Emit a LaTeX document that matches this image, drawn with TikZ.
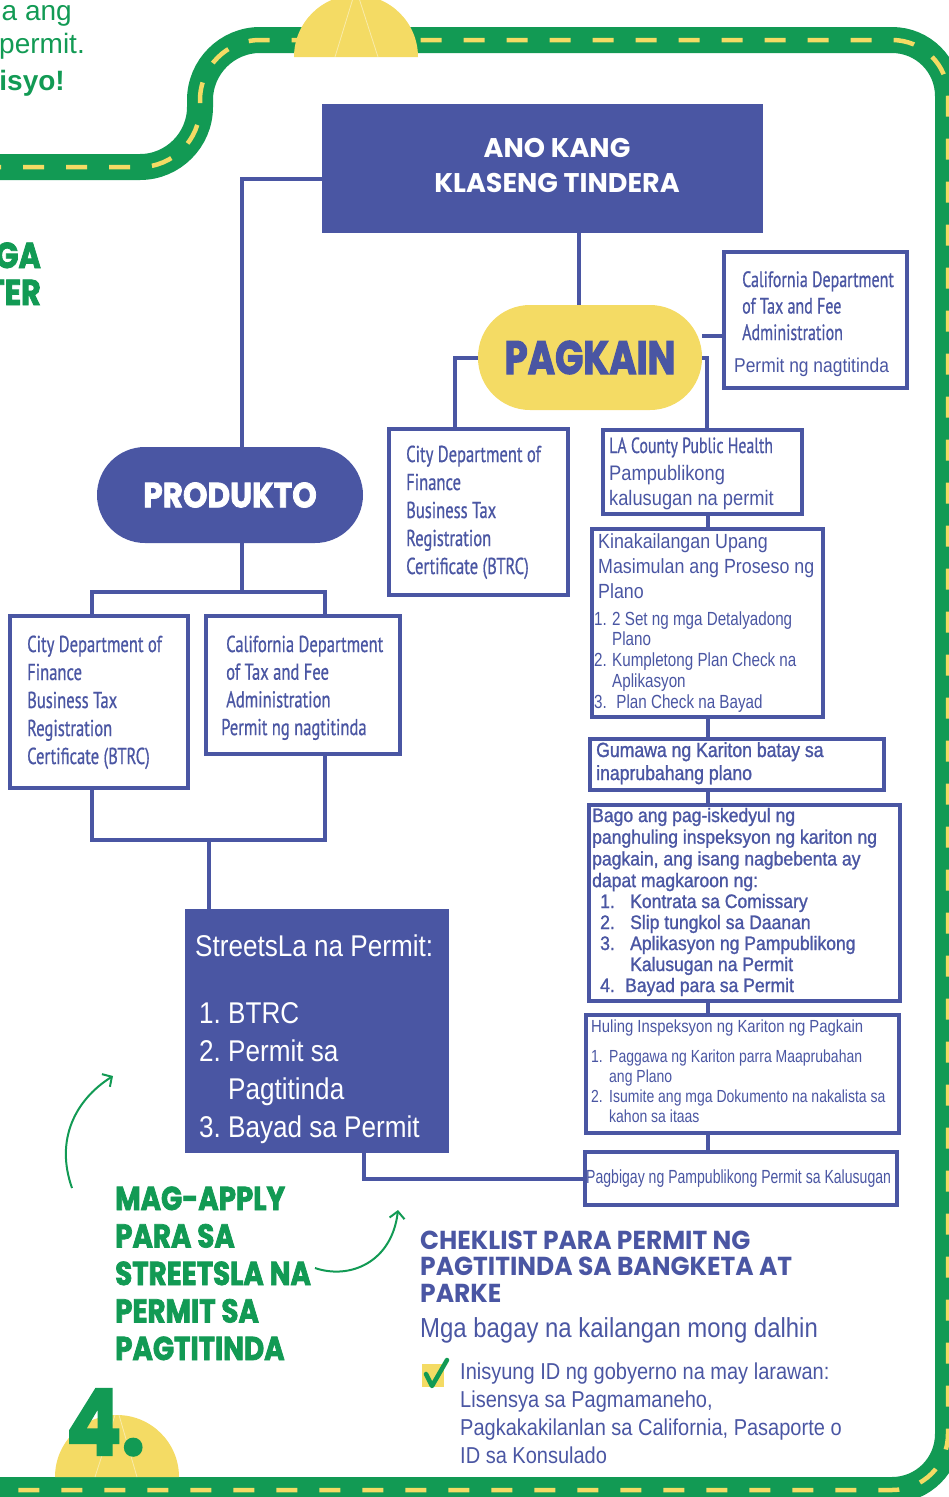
\documentclass[tikz,border=0pt]{standalone}
\usepackage{fontspec}
\setmainfont{Liberation Sans}
\newfontfamily\arialA[FakeStretch=0.87]{Liberation Sans}
\newfontfamily\arialB[FakeStretch=0.8]{Liberation Sans}
\newfontfamily\arialBb[FakeStretch=0.85]{Liberation Sans}
\newfontfamily\arialC[FakeStretch=0.74]{Liberation Sans}
\newfontfamily\arialBold[FakeStretch=0.86,FakeBold=1.2]{Liberation Sans}
\newfontfamily\arialBoldW[FakeStretch=0.9,FakeBold=1.2]{Liberation Sans}
\newfontfamily\condf[FakeStretch=0.72,FakeBold=0.6]{PT Sans}
\newfontfamily\heavyA[FakeStretch=0.84,FakeBold=2.2]{Poppins}
\newfontfamily\heavyP[FakeStretch=0.79,FakeBold=2.2]{Poppins}
\newfontfamily\heavyB[FakeStretch=0.89,FakeBold=2.2]{Poppins}
\newfontfamily\heavyF[FakeStretch=0.89,FakeBold=2.2]{Poppins}
\newfontfamily\futb[FakeStretch=1.0]{Poppins}
\newfontfamily\futc[FakeStretch=0.96]{Poppins}
\usetikzlibrary{arrows.meta}
\definecolor{sblue}{HTML}{4A56A3}
\definecolor{sgreen}{HTML}{129A54}
\definecolor{syellow}{HTML}{F4DB64}
\newcommand\fsz[2]{\fontsize{#1}{#2}\selectfont}
\newcommand\mlines[1]{\vtop{\lineskiplimit=-100pt\lineskip=0pt\halign{##\hfil\cr#1\crcr}}}
\newcommand\clines[1]{\vtop{\lineskiplimit=-100pt\lineskip=0pt\halign{\hfil##\hfil\cr#1\crcr}}}
\newcommand\tlines[2]{\vtop{\lineskiplimit=-100pt\lineskip=0pt\halign{\hbox to #1{##\hfil}&##\hfil\cr#2\crcr}}}
\tikzset{
  bx/.style={draw=sblue, line width=4, fill=white, inner sep=0, anchor=north west},
  bluebox/.style={fill=sblue, inner sep=0, anchor=north west},
  conn/.style={draw=sblue, line width=4},
  txt/.style={inner sep=0, anchor=base west, text=sblue},
  road/.style={draw=sgreen, line width=26},
  roaddash/.style={draw=syellow, line width=4.5, dash pattern=on 21 off 22},
  garrow/.style={draw=sgreen, line width=2, -{Straight Barb[length=7pt,width=15pt,line width=2pt]}},
}
\begin{document}
\begin{tikzpicture}[x=1pt,y=-1pt]
\useasboundingbox (0,0) rectangle (949,1497);
% road
\def\roadpath{(-20,167) -- (140,167) .. controls (173,167) and (200,140) .. (200,107) -- (200,100) .. controls (200,67) and (227,40) .. (260,40) -- (892,40) .. controls (923,40) and (948,65) .. (948,96) -- (948,1434) .. controls (948,1465) and (923,1490) .. (892,1490) -- (-20,1490)}
\draw[road] \roadpath;
\draw[roaddash] \roadpath;
% bumps
\fill[syellow] (294,57) arc[start angle=180, end angle=360, radius=62] -- cycle;
\draw[white, opacity=0.45, line width=0.8] (335,57) -- (354,-5) (378,57) -- (358,-5);
\fill[syellow] (55,1477) arc[start angle=180, end angle=360, radius=62] -- cycle;
\draw[white, opacity=0.45, line width=0.8] (95,1477) -- (115,1415) (137,1477) -- (119,1415);
% top-left texts
\node[anchor=base east, inner sep=0, text=sgreen, font=\fsz{28}{30}] (tl1) at (72,20) {a ang};
\node[anchor=base east, inner sep=0, text=sgreen, font=\fsz{28}{30}] (tl2) at (85,53) {permit.};
\node[anchor=base east, inner sep=0, text=sgreen, font=\bfseries\fsz{28}{30}] (tl3) at (65,90) {isyo!};
\node[anchor=base east, inner sep=0, text=sgreen, font=\heavyA\bfseries\fsz{36}{36}] (ga) at (41,268) {GA};
\node[anchor=base east, inner sep=0, text=sgreen, font=\heavyA\bfseries\fsz{36}{36}] (ter) at (41,305) {TER};
% title
\node[bluebox, minimum width=441, minimum height=129] (title) at (322,104) {};
\node[anchor=base, inner sep=0, text=white, font=\futb\bfseries\fsz{27}{35}] (titlet) at (557,157) {\clines{ANO KANG\cr KLASENG TINDERA}};
% pagkain / produkto
\node[fill=syellow, minimum width=224, minimum height=105, rounded corners=52, inner sep=0, text=sblue, font=\heavyP\bfseries\fsz{47}{47}] (pagkain) at (590,357.5) {PAGKAIN};
\node[fill=sblue, minimum width=266, minimum height=96, rounded corners=48, inner sep=0, text=white, font=\heavyB\bfseries\fsz{35}{35}] (produkto) at (230,495) {PRODUKTO};
% boxes
\node[bx, minimum width=183, minimum height=136] (cdtR) at (722,250) {};
\node[bx, minimum width=179, minimum height=166] (cdfM) at (387,427) {};
\node[bx, minimum width=199, minimum height=84] (lach) at (601,428) {};
\node[bx, minimum width=231, minimum height=188] (kina) at (590,527) {};
\node[bx, minimum width=294, minimum height=51] (gum) at (588,737) {};
\node[bx, minimum width=311, minimum height=196] (bago) at (587,803) {};
\node[bx, minimum width=313, minimum height=118] (huling) at (584,1013) {};
\node[bx, minimum width=312, minimum height=53] (pagbigay) at (583,1150) {};
\node[bx, minimum width=178, minimum height=172] (cdfL) at (8,614) {};
\node[bx, minimum width=194, minimum height=138] (cdtL) at (204,614) {};
\node[bluebox, minimum width=264, minimum height=244] (streets) at (185,909) {};
% connectors
\draw[conn] ([yshift=-10]title.west) -| ([xshift=12]produkto.north);
\draw[conn] ([xshift=36.5]title.south) -- ([xshift=36.5]title.south |- pagkain.north);
\draw[conn] (pagkain.west) -| ([xshift=-23.5]cdfM.north);
\draw[conn] ([yshift=22]pagkain.east) -- ([yshift=22]pagkain.east -| cdtR.west);
\draw[conn] (pagkain.east) -| ([xshift=4.5]lach.north);
\draw[conn] ([xshift=5.5]lach.south) -- ([xshift=5.5]lach.south |- kina.north);
\draw[conn] ([xshift=0.5]kina.south) -- ([xshift=0.5]kina.south |- gum.north);
\draw[conn] ([xshift=-29]gum.south) -- ([xshift=-29]gum.south |- bago.north);
\draw[conn] ([xshift=-36.5]bago.south) -- ([xshift=-36.5]bago.south |- huling.north);
\draw[conn] ([xshift=-34.5]huling.south) -- ([xshift=-34.5]huling.south |- pagbigay.north);
\draw[conn] (pagbigay.west) -| ([xshift=47]streets.south);
\coordinate (pbar) at (242,592);
\draw[conn] ([xshift=12]produkto.south) -- (pbar);
\draw[conn] ([xshift=-7]cdfL.north) |- (pbar) -| ([xshift=22]cdtL.north);
\coordinate (sbar) at (209,840);
\draw[conn] ([xshift=-7]cdfL.south) |- (sbar) -| ([xshift=22]cdtL.south);
\draw[conn] (sbar) -- (sbar |- streets.north);
% box texts
\node[txt, font=\condf\fsz{22.2}{26.5}] (cdtRt) at (742,287) {\mlines{California Department\cr of Tax and Fee\cr Administration}};
\node[txt, font=\arialA\fsz{20}{24}] (cdtRp) at (734,372) {Permit ng nagtitinda};
\node[txt, font=\condf\fsz{23}{28}] (cdfMt) at (406,462) {\mlines{City Department of\cr Finance\cr Business Tax\cr Registration\cr Certificate (BTRC)}};
\node[txt, font=\condf\fsz{22}{27}] (lacht) at (609,453) {LA County Public Health};
\node[txt, font=\arialA\fsz{21}{25}] (lachp) at (609,480) {\mlines{Pampublikong\cr kalusugan na permit}};
\node[txt, font=\arialA\fsz{20.5}{25}] (kinat) at (598,548) {\mlines{Kinakailangan Upang\cr Masimulan ang Proseso ng\cr Plano}};
\node[txt, font=\arialB\fsz{19}{20.8}] (kinal) at (594,625) {\tlines{18pt}{1.&2 Set ng mga Detalyadong\cr &Plano\cr 2.&Kumpletong Plan Check na\cr &Aplikasyon\cr 3.&\ Plan Check na Bayad}};
\node[txt, font=\arialBold\fsz{20.5}{23}] (gumt) at (596,757) {\mlines{Gumawa ng Kariton batay sa\cr inaprubahang plano}};
\node[txt, font=\arialBoldW\fsz{19.5}{21.7}] (bagot) at (592,822) {\mlines{Bago ang pag-iskedyul ng\cr panghuling inspeksyon ng kariton ng\cr pagkain, ang isang nagbebenta ay\cr dapat magkaroon ng:}};
\node[txt, font=\arialBoldW\fsz{19.5}{21}] (bagol) at (600,908) {\tlines{30pt}{1.&Kontrata sa Comissary\cr 2.&Slip tungkol sa Daanan\cr 3.&Aplikasyon ng Pampublikong\cr &Kalusugan na Permit\cr 4.&\hspace*{-5pt}Bayad para sa Permit}};
\node[txt, font=\arialBb\fsz{17.5}{20}] (hulingt) at (591,1032) {Huling Inspeksyon ng Kariton ng Pagkain};
\node[txt, font=\arialB\fsz{17.5}{20.3}] (hulingl) at (591,1062) {\tlines{18pt}{1.&Paggawa ng Kariton parra Maaprubahan\cr &ang Plano\cr 2.&Isumite ang mga Dokumento na nakalista sa\cr &kahon sa itaas}};
\node[txt, font=\arialC\fsz{19}{22}] (pagbigayt) at (586,1183) {Pagbigay ng Pampublikong Permit sa Kalusugan};
\node[txt, font=\condf\fsz{23}{28}] (cdfLt) at (27,652) {\mlines{City Department of\cr Finance\cr Business Tax\cr Registration\cr Certificate (BTRC)}};
\node[txt, font=\condf\fsz{23}{27.7}] (cdtLt) at (226,652) {\mlines{California Department\cr of Tax and Fee\cr Administration\cr \hspace*{-5pt}Permit ng nagtitinda}};
\node[txt, text=white, font=\arialA\fsz{30}{38}] (streetst) at (195,956) {StreetsLa na Permit:};
\node[txt, text=white, font=\arialA\fsz{30}{38.3}] (streetsl) at (199,1023) {\tlines{29pt}{1.&BTRC\cr 2.&Permit sa\cr &Pagtitinda\cr 3.&Bayad sa Permit}};
% green side texts
\node[txt, text=sgreen, font=\heavyA\bfseries\fsz{33}{37.5}] (apply) at (115,1210) {\mlines{MAG-APPLY\cr PARA SA\cr STREETSLA NA\cr PERMIT SA\cr PAGTITINDA}};
\node[txt, text=sgreen, font=\heavyF\bfseries\fsz{92}{92}] (four) at (66,1455) {4.};
\coordinate (a1s) at (72,1188);
\coordinate (a1e) at (113,1076);
\draw[garrow] (a1s) .. controls (55,1140) and (75,1100) .. (a1e);
\coordinate (a2s) at (315,1268);
\coordinate (a2e) at (398,1210);
\draw[garrow] (a2s) .. controls (350,1280) and (392,1262) .. (a2e);
% checklist
\node[txt, font=\futc\bfseries\fsz{26}{26.5}] (chek) at (420,1249) {\mlines{CHEKLIST PARA PERMIT NG\cr PAGTITINDA SA BANGKETA AT\cr PARKE}};
\node[txt, font=\arialA\fsz{27.5}{30}] (mga) at (420,1337) {Mga bagay na kailangan mong dalhin};
\fill[syellow] (422,1364) rectangle (444,1387);
\draw[sgreen, line width=4.5, line cap=round, line join=round] (426,1374) -- (432,1386) -- (447,1360);
\node[txt, font=\arialA\fsz{23}{28}] (inis) at (460,1379) {\mlines{Inisyung ID ng gobyerno na may larawan:\cr Lisensya sa Pagmamaneho,\cr Pagkakakilanlan sa California, Pasaporte o\cr ID sa Konsulado}};
\end{tikzpicture}
\end{document}
